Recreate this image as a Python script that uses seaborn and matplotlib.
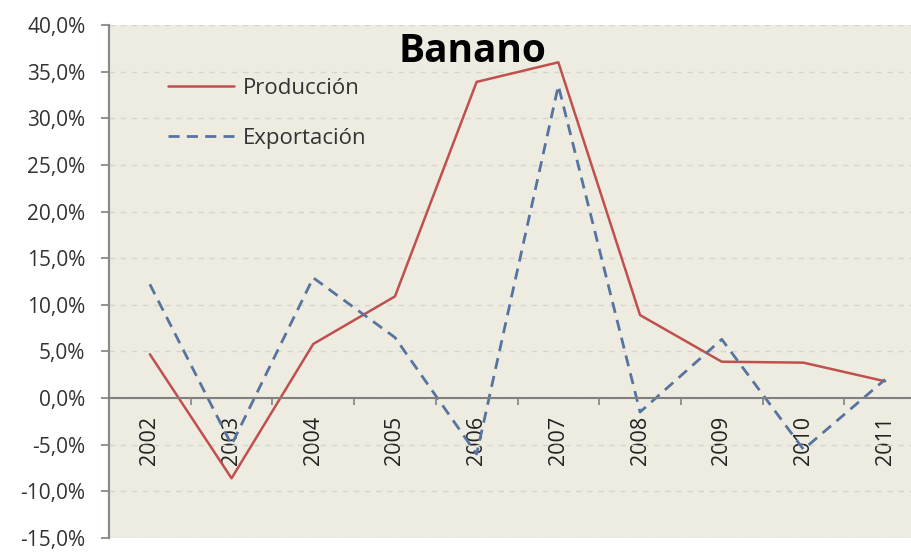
import numpy as np
import pandas as pd
import matplotlib
matplotlib.use("Agg")
import matplotlib.pyplot as plt
import seaborn as sns
from matplotlib.ticker import FuncFormatter, FixedLocator

years = ["2002", "2003", "2004", "2005", "2006", "2007", "2008", "2009", "2010", "2011"]
produccion = [4.7, -8.6, 5.8, 10.9, 33.9, 36.0, 8.9, 3.9, 3.8, 1.8]
exportacion = [12.2, -5.0, 12.9, 6.5, -6.0, 33.5, -1.5, 6.3, -5.5, 2.0]
y_ticks = [-15, -10, -5, 0, 5, 10, 15, 20, 25, 30, 35, 40]
title = "Banano"
labels = ["Producción", "Exportación"]

sns.set_theme(style="white")
plt.rcParams["font.family"] = ["Open Sans", "DejaVu Sans"]

df = pd.DataFrame({"pos": np.arange(len(years)), "Producción": produccion, "Exportación": exportacion})

fig = plt.figure(figsize=(9.11, 5.52), dpi=100)
fig.patch.set_facecolor("white")
ax = fig.add_axes([109 / 911, 1 - 538 / 552, 817 / 911, 513 / 552])
ax.set_facecolor("#EEECE1")

sns.lineplot(data=df, x="pos", y="Producción", ax=ax, color="#C0504D", lw=1.8, label=labels[0])
sns.lineplot(data=df, x="pos", y="Exportación", ax=ax, color="#56749F", lw=2.0, label=labels[1],
             dashes=False)
ax.lines[1].set_linestyle((0, (4, 2.6)))

# spines first (set_position resets tick settings)
for s in ["top", "right"]:
    ax.spines[s].set_visible(False)
ax.spines["left"].set_color("#8A8A8A")
ax.spines["left"].set_linewidth(1.6)
ax.spines["bottom"].set_position(("data", 0))
ax.spines["bottom"].set_color("#808080")
ax.spines["bottom"].set_linewidth(1.5)

ax.set_xlim(-0.5, len(years) - 0.5)
ax.set_ylim(-15, 40)
ax.set_xlabel("")
ax.set_ylabel("")

ax.yaxis.set_major_locator(FixedLocator(y_ticks))
ax.yaxis.set_major_formatter(FuncFormatter(lambda v, p: f"{v:.1f}%".replace(".", ",")))
ax.yaxis.grid(True, linestyle=(0, (4, 4)), color="#D6D5CE", lw=1.0)
ax.xaxis.grid(False)
ax.set_axisbelow(True)

ax.set_xticks(np.arange(len(years)))
ax.set_xticklabels(years, rotation=90, fontsize=15.5, color="#222222")
ax.set_xticks(np.arange(len(years) - 1) + 0.5, minor=True)
ax.tick_params(axis="x", which="major", length=0, pad=13, bottom=True)
ax.tick_params(axis="x", which="minor", length=5, width=1.2, color="#808080", direction="out", bottom=True)
ax.tick_params(axis="y", which="major", length=6, width=1.2, color="#808080", direction="out",
               left=True, labelsize=15, labelcolor="#333333", pad=11)

leg = ax.legend(loc="upper left", bbox_to_anchor=(0.072, 0.897), frameon=False, fontsize=16,
                handlelength=3.0, handletextpad=0.36, labelspacing=1.3, borderpad=0, borderaxespad=0)
for t in leg.get_texts():
    t.set_color("#333333")

fig.text(472 / 911, 1 - 62 / 552, title, ha="center", va="baseline", fontsize=28,
         fontweight="bold", color="black")

fig.savefig("out.png", dpi=100)
